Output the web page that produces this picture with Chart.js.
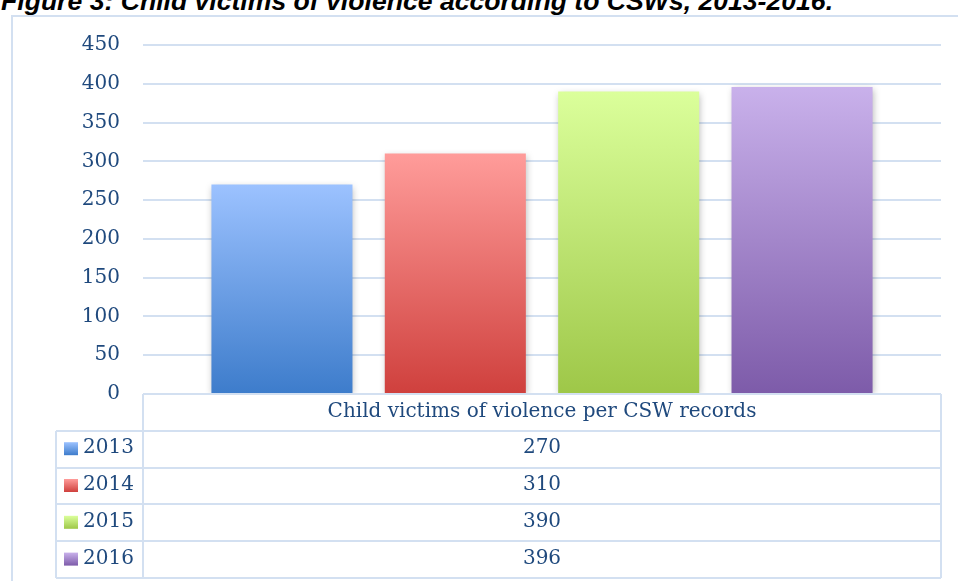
<!DOCTYPE html>
<html>
<head>
<meta charset="utf-8">
<title>Child victims of violence according to CSWs, 2013-2016</title>
<script src="https://cdn.jsdelivr.net/npm/chart.js@4.4.1/dist/chart.umd.min.js"></script>
<style>
    html, body { margin: 0; padding: 0; background: #ffffff; overflow: hidden; }
    #wrap { position: relative; width: 958px; height: 581px; overflow: hidden; }
    #titre {
        position: absolute; left: 1px; top: -12px;
        font: italic bold 26.6px "Liberation Sans", Arial, sans-serif;
        line-height: 26px; white-space: nowrap; color: #000000;
    }
    #graph { position: absolute; left: 0; top: 0; }
</style>
</head>
<body>
<div id="wrap">
    <div id="titre">Figure 3: Child victims of violence according to CSWs, 2013-2016.</div>
    <canvas id="graph" width="958" height="581"></canvas>
</div>
<script>
// Données
var categories = ['Child victims of violence per CSW records'];
var annees = ['2013', '2014', '2015', '2016'];
var victimes = [270, 310, 390, 396];
var graduations = [0, 50, 100, 150, 200, 250, 300, 350, 400, 450];

// Couleurs (haut / bas du dégradé de chaque barre)
var couleurHaut = ['#9CC2FF', '#FF9C9A', '#DBFF9B', '#C9B1EB'];
var couleurBas = ['#3D7CCB', '#CF403D', '#9EC748', '#7D5BA9'];
var couleurTexte = '#1F497D';
var couleurTrait = '#D3E0F1';
var policeTexte = '20px "DejaVu Serif", Cambria, serif';

// Dégradé vertical pour une barre
function degrade(ctx, i, haut, bas) {
    var g = ctx.createLinearGradient(0, haut, 0, bas);
    g.addColorStop(0, couleurHaut[i]);
    g.addColorStop(1, couleurBas[i]);
    return g;
}

function fondBarre(context) {
    var chart = context.chart;
    var i = context.datasetIndex;
    if (!chart.chartArea) return couleurBas[i];
    var y = chart.scales.y;
    return degrade(chart.ctx, i, y.getPixelForValue(victimes[i]), y.getPixelForValue(0));
}

// Cadre extérieur du graphique
var cadrePlugin = {
    id: 'cadre',
    beforeDraw: function(chart) {
        var ctx = chart.ctx;
        ctx.save();
        ctx.strokeStyle = couleurTrait;
        ctx.lineWidth = 2;
        ctx.strokeRect(12, 16, 960, 600);
        ctx.restore();
    }
};

// Ombre douce sous les barres
var ombrePlugin = {
    id: 'ombre',
    beforeDatasetsDraw: function(chart) {
        var ctx = chart.ctx;
        ctx.save();
        ctx.shadowColor = 'rgba(0, 0, 0, 0.28)';
        ctx.shadowBlur = 7;
        ctx.shadowOffsetX = 1;
        ctx.shadowOffsetY = 2;
    },
    afterDatasetsDraw: function(chart) {
        chart.ctx.restore();
    }
};

// Tableau de données sous l'axe
var tableauPlugin = {
    id: 'tableau',
    afterDraw: function(chart) {
        var ctx = chart.ctx;
        var zone = chart.chartArea;
        var gauche = zone.left;
        var droite = zone.right;
        var haut = chart.scales.y.getPixelForValue(0);
        var hLigne = 36.8;
        var colLegende = gauche - 87;
        var bas = haut + hLigne * (annees.length + 1);
        var centre = (gauche + droite) / 2;

        ctx.save();
        ctx.strokeStyle = couleurTrait;
        ctx.lineWidth = 2;

        // lignes horizontales
        ctx.beginPath();
        ctx.moveTo(gauche, haut);
        ctx.lineTo(droite, haut);
        for (var r = 1; r <= annees.length + 1; r++) {
            var yy = Math.round(haut + hLigne * r);
            ctx.moveTo(colLegende, yy);
            ctx.lineTo(droite, yy);
        }
        // lignes verticales
        ctx.moveTo(gauche, haut);
        ctx.lineTo(gauche, bas);
        ctx.moveTo(droite, haut);
        ctx.lineTo(droite, bas);
        ctx.moveTo(colLegende, Math.round(haut + hLigne));
        ctx.lineTo(colLegende, bas);
        ctx.stroke();

        ctx.fillStyle = couleurTexte;
        ctx.font = policeTexte;
        ctx.textBaseline = 'middle';
        ctx.textAlign = 'center';
        ctx.fillText(categories[0], centre, haut + hLigne / 2 - 1);

        for (var i = 0; i < annees.length; i++) {
            var cy = haut + hLigne * (i + 1.5) - 1;
            // carré de légende
            ctx.fillStyle = degrade(ctx, i, cy - 6, cy + 7);
            ctx.fillRect(colLegende + 8, cy - 6, 14, 13);
            ctx.fillStyle = couleurTexte;
            ctx.textAlign = 'left';
            ctx.fillText(annees[i], colLegende + 27, cy);
            ctx.textAlign = 'center';
            ctx.fillText(String(victimes[i]), centre, cy);
        }
        ctx.restore();
    }
};

var datasets = annees.map(function(annee, i) {
    return {
        label: annee,
        data: [victimes[i]],
        backgroundColor: fondBarre,
        borderWidth: 0,
        categoryPercentage: 0.869,
        barPercentage: 0.8136
    };
});

var ctx = document.getElementById('graph').getContext('2d');
var monGraphique = new Chart(ctx, {
    type: 'bar',
    data: {
        labels: categories,
        datasets: datasets
    },
    options: {
        responsive: false,
        animation: false,
        layout: {
            padding: { left: 0, top: 45, right: 17, bottom: 187 }
        },
        plugins: {
            legend: { display: false },
            tooltip: { enabled: false }
        },
        scales: {
            x: { display: false },
            y: {
                min: 0,
                max: 450,
                afterFit: function(scale) { scale.width = 143; },
                afterBuildTicks: function(scale) {
                    scale.ticks = graduations.map(function(v) { return { value: v }; });
                },
                border: { display: false },
                grid: {
                    color: couleurTrait,
                    lineWidth: 2,
                    drawTicks: false
                },
                ticks: {
                    padding: 23,
                    color: couleurTexte,
                    font: { family: '"DejaVu Serif", Cambria, serif', size: 20 }
                }
            }
        }
    },
    plugins: [cadrePlugin, ombrePlugin, tableauPlugin]
});
</script>
</body>
</html>
